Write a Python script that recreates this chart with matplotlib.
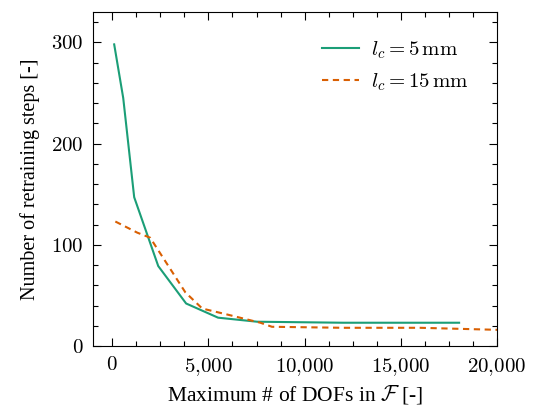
import matplotlib
matplotlib.use("Agg")
import matplotlib.pyplot as plt
from matplotlib.ticker import MultipleLocator, FuncFormatter

plt.rcParams.update({
    "font.family": "serif",
    "font.serif": ["Liberation Serif", "DejaVu Serif"],
    "mathtext.fontset": "cm",
    "font.size": 14,
})

# data
dofs_5 = [100, 570, 1140, 2390, 3840, 5500, 7530, 12000, 18030]
steps_5 = [298, 245, 147, 79, 42, 28, 24, 23, 23]
dofs_15 = [160, 1300, 1970, 3800, 4680, 6000, 7700, 8300, 12000, 16000, 20000]
steps_15 = [123, 112, 107, 53, 37, 31, 23, 19, 18, 18, 16]
labels = [r"$l_c = 5\,\mathrm{mm}$", r"$l_c = 15\,\mathrm{mm}$"]
colors = ["#1b9e77", "#d95f02"]

fig = plt.figure(figsize=(5.44, 4.09), dpi=100)
ax = fig.add_axes([0.171, 0.154, 0.9136 - 0.171, 0.9707 - 0.154])
ax.plot(dofs_5, steps_5, color=colors[0], lw=1.5, label=labels[0])
ax.plot(dofs_15, steps_15, color=colors[1], lw=1.5, ls="--", dashes=(3, 2.2),
        label=labels[1])

ax.set_xlim(-1000, 20000)
ax.set_ylim(0, 330)
ax.xaxis.set_major_locator(MultipleLocator(5000))
ax.xaxis.set_minor_locator(MultipleLocator(1250))
ax.yaxis.set_major_locator(MultipleLocator(100))
ax.yaxis.set_minor_locator(MultipleLocator(20))
ax.xaxis.set_major_formatter(
    FuncFormatter(lambda v, p: "$" + f"{int(v):,}".replace(",", "{,}") + "$"))
ax.yaxis.set_major_formatter(FuncFormatter(lambda v, p: f"${int(v)}$"))
ax.tick_params(which="both", direction="in", top=True, right=True, width=0.8,
               labelsize=15)
ax.tick_params(which="major", length=6, pad=7)
ax.tick_params(which="minor", length=3.5)
for s in ax.spines.values():
    s.set_linewidth(0.8)

ax.set_xlabel(r"Maximum # of DOFs in $\mathcal{F}$ [-]", fontsize=15.5, labelpad=4)
ax.set_ylabel("Number of retraining steps [-]", fontsize=14.5, labelpad=8)
ax.legend(loc="upper right", frameon=False, handlelength=1.8, fontsize=15,
          bbox_to_anchor=(0.975, 0.975), labelspacing=0.5, handletextpad=0.55)

fig.savefig("out.png", dpi=100)
